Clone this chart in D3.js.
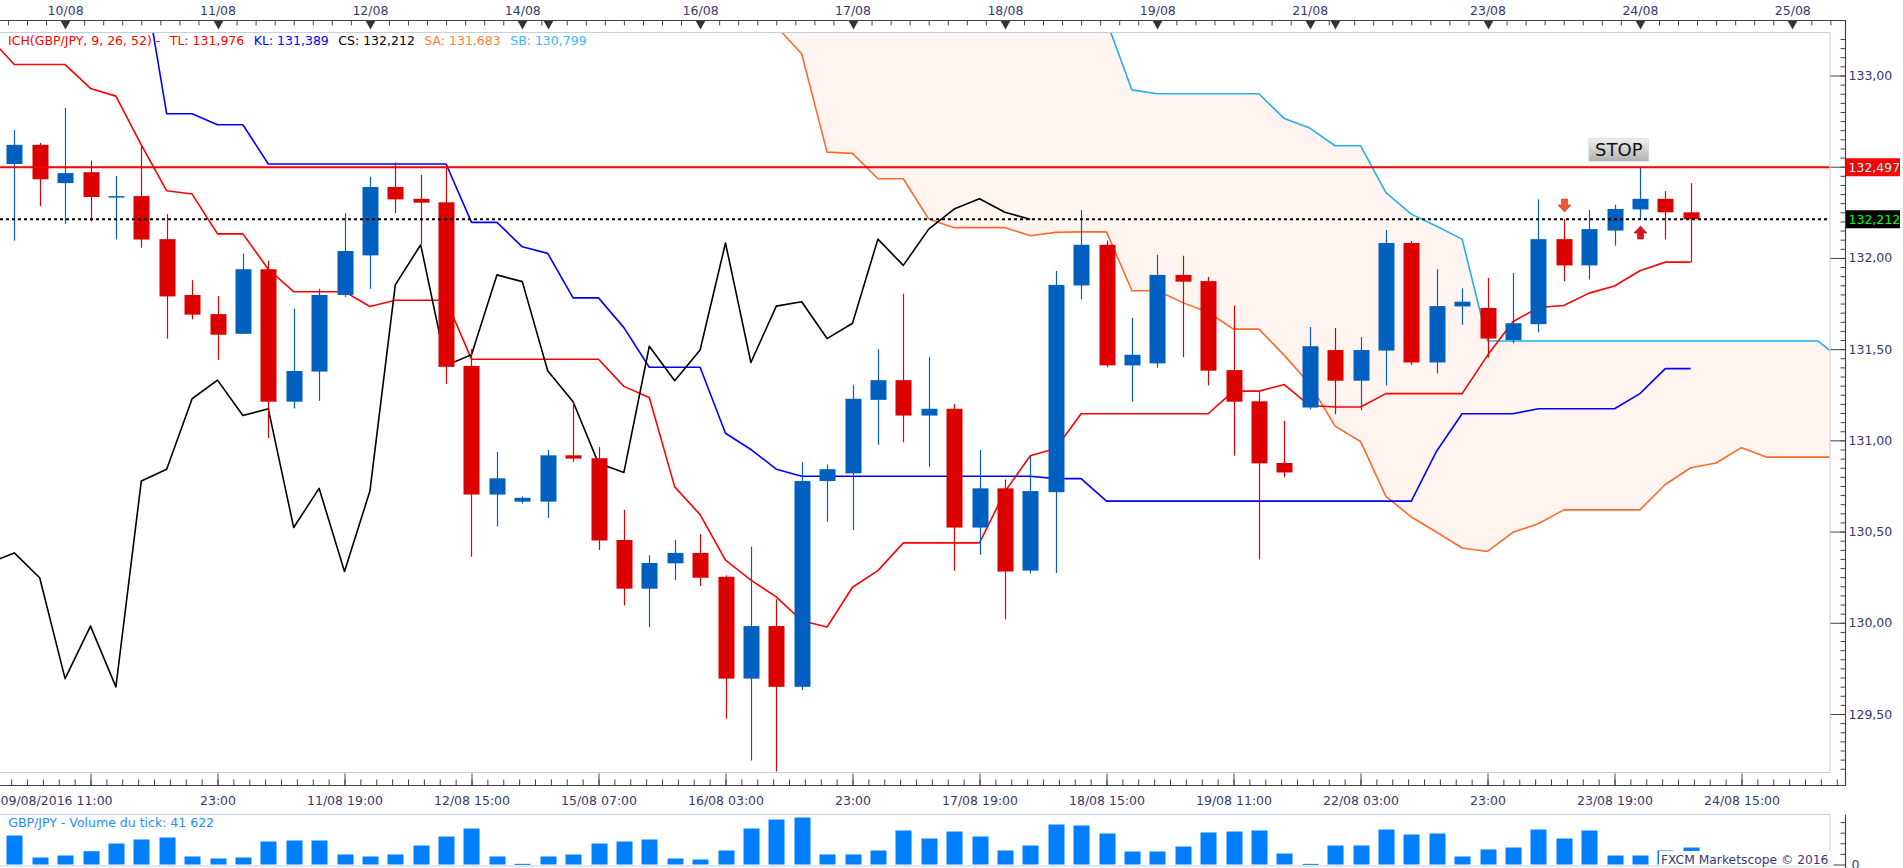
<!DOCTYPE html>
<html>
<head>
<meta charset="utf-8">
<title>GBP/JPY - ICH</title>
<script src="https://cdn.jsdelivr.net/npm/d3@7"></script>
<style>
  body { margin: 0; background: #ffffff; overflow: hidden; }
  svg text { font-family: "DejaVu Sans", Verdana, sans-serif; }
</style>
</head>
<body>
<div id="viz"></div>
<script>
// ---------- data (4h candles, index 0 = 09/08 11:00) ----------
const candleIdx = d3.range(67);

const open = [132.515,132.620,132.410,132.470,132.337,132.339,132.103,131.797,131.692,131.584,
  131.938,131.212,131.377,131.797,132.014,132.389,132.324,132.305,131.408,130.703,
  130.664,130.664,130.918,130.902,130.454,130.187,130.326,130.383,130.252,129.694,
  129.982,129.649,130.777,130.819,131.222,131.330,131.136,131.173,130.522,130.737,
  130.286,130.716,131.849,132.072,131.411,131.422,131.907,131.873,131.385,131.214,
  130.876,131.180,131.495,131.327,131.492,132.082,131.427,131.734,131.726,131.550,
  131.637,132.103,131.959,132.150,132.266,132.324,132.250];
const high = [132.701,132.630,132.822,132.533,132.449,132.612,132.240,131.878,131.791,132.025,
  131.985,131.721,131.831,132.245,132.444,132.523,132.455,132.499,131.500,130.937,
  130.693,130.947,131.215,130.963,130.619,130.370,130.454,130.486,130.260,130.417,
  130.129,130.881,130.868,131.304,131.500,131.804,131.456,131.199,130.947,130.785,
  130.916,131.928,132.263,132.095,131.671,132.017,132.012,131.896,131.739,131.264,
  131.107,131.621,131.616,131.566,132.153,132.093,131.938,131.833,131.891,131.917,
  132.321,132.213,132.263,132.292,132.494,132.366,132.410];
const low = [132.095,132.284,132.187,132.200,132.101,132.056,131.558,131.663,131.440,131.584,
  131.013,131.175,131.217,131.786,131.831,132.245,132.074,131.309,130.362,130.528,
  130.653,130.575,130.882,130.399,130.095,129.977,130.234,130.202,129.474,129.245,
  129.185,129.631,130.554,130.509,130.976,130.989,130.855,130.286,130.373,130.019,
  130.270,130.273,131.773,131.401,131.212,131.398,131.456,131.301,130.916,130.347,
  130.798,131.170,131.144,131.165,131.301,131.414,131.367,131.634,131.453,131.532,
  131.592,131.873,131.883,132.067,132.213,132.101,131.977];
const close = [132.620,132.431,132.465,132.334,132.339,132.101,131.789,131.689,131.579,131.938,
  131.212,131.380,131.797,132.038,132.389,132.321,132.303,131.403,130.703,130.792,
  130.685,130.918,130.900,130.451,130.187,130.328,130.383,130.247,129.694,129.982,
  129.649,130.777,130.842,131.228,131.330,131.136,131.173,130.522,130.737,130.281,
  130.722,131.852,132.072,131.411,131.469,131.907,131.870,131.382,131.212,130.874,
  130.824,131.516,131.327,131.495,132.082,131.427,131.736,131.760,131.558,131.642,
  132.103,131.959,132.158,132.268,132.324,132.250,132.212];
const volume = [68400,16500,21200,31400,49500,59000,63700,18900,14100,16500,
  54200,56600,56600,23600,18900,23600,44800,66000,84900,18900,
  1500,18900,23600,49500,54200,59000,14100,11800,33000,84900,
  106000,110800,23600,23600,33000,80200,61300,77800,66000,33000,
  44800,94300,92000,73100,30700,30700,42400,75500,77800,80200,
  25900,1500,44800,44800,82500,70700,73100,18900,35400,40100,
  82500,61300,80200,21200,21200,33000,40100];

// ichimoku lines (first index of each array given by *_START)
const TL_START = -1;
const tenkan = [133.210,133.060,133.060,133.060,132.929,132.887,132.620,132.368,132.350,132.132,132.132,
  131.938,131.815,131.815,131.815,131.734,131.768,131.768,131.768,131.445,131.445,
  131.445,131.445,131.445,131.445,131.296,131.235,130.745,130.593,130.344,130.234,
  130.142,130.011,129.977,130.195,130.286,130.438,130.438,130.438,130.438,130.719,
  130.916,130.955,131.146,131.146,131.146,131.146,131.146,131.146,131.270,131.270,
  131.306,131.191,131.183,131.183,131.256,131.256,131.256,131.256,131.466,131.650,
  131.728,131.739,131.807,131.846,131.930,131.977,131.977];
const KL_START = 0;
const kijun = [133.620,133.620,133.620,133.620,133.620,133.620,132.790,132.790,132.730,132.730,
  132.515,132.515,132.515,132.515,132.515,132.515,132.515,132.515,132.195,132.195,
  132.061,132.025,131.781,131.781,131.618,131.401,131.401,131.401,131.039,130.950,
  130.842,130.803,130.803,130.803,130.803,130.803,130.803,130.803,130.803,130.803,
  130.803,130.790,130.790,130.667,130.667,130.667,130.667,130.667,130.667,130.667,
  130.667,130.667,130.667,130.667,130.667,130.667,130.942,131.146,131.146,131.146,
  131.173,131.173,131.173,131.173,131.256,131.393,131.393];
const CS_START = -1;
const chikou = [130.328,130.383,130.247,129.694,129.982,129.649,130.777,130.842,131.228,131.330,
  131.136,131.173,130.522,130.737,130.281,130.722,131.852,132.072,131.411,131.469,
  131.907,131.870,131.382,131.212,130.874,130.824,131.516,131.327,131.495,132.082,
  131.427,131.736,131.760,131.558,131.642,132.103,131.959,132.158,132.268,132.324,
  132.250,132.212];
const CLOUD_START = 30;
const senkouA = [133.270,133.118,132.580,132.573,132.434,132.434,132.213,132.166,132.166,132.166,
  132.122,132.140,132.143,132.143,131.820,131.820,131.755,131.702,131.610,131.610,
  131.466,131.309,131.078,130.994,130.693,130.580,130.496,130.410,130.391,130.496,
  130.543,130.619,130.619,130.619,130.619,130.758,130.850,130.876,130.960,130.908,
  130.908,130.908,130.908];
const senkouB = [133.300,133.300,133.300,133.300,133.300,133.300,133.300,133.300,133.300,133.300,
  133.300,133.300,133.300,133.300,132.921,132.900,132.900,132.900,132.900,132.900,
  132.764,132.712,132.615,132.615,132.358,132.240,132.174,132.103,131.545,131.545,
  131.545,131.545,131.545,131.545,131.545,131.545,131.545,131.545,131.545,131.545,
  131.545,131.545,131.437];

// axis labels
const dayIdx = [2, 8, 14, 20, 21, 27, 33, 39, 45, 51, 52, 58, 64, 70];
const dayLabels = ["10/08","11/08","12/08","14/08","15/08","16/08","17/08","18/08","19/08","21/08","22/08","23/08","24/08","25/08"];
const timeIdx = [3, 8, 13, 18, 23, 28, 33, 38, 43, 48, 53, 58, 63, 68];
const timeLabels = ["","23:00","11/08 19:00","12/08 15:00","15/08 07:00","16/08 03:00","23:00",
  "17/08 19:00","18/08 15:00","19/08 11:00","22/08 03:00","23:00","23/08 19:00","24/08 15:00"];
const firstTimeLabel = "09/08/2016 11:00";
const priceTicks = [129.5, 130, 130.5, 131, 131.5, 132, 132.5, 133];
const volumeTicks = [0, 25000, 50000, 75000, 100000];

const stopLevel = 132.497;
const lastPrice = 132.212;
const sellSignals = [61];
const buySignals = [64];
const legendItems = [
  {text: "ICH(GBP/JPY, 9, 26, 52) -", color: "#ff0000"},
  {text: "TL: 131,976", color: "#ff0000"},
  {text: "KL: 131,389", color: "#0000ff"},
  {text: "CS: 132,212", color: "#000000"},
  {text: "SA: 131,683", color: "#ff7f40"},
  {text: "SB: 130,799", color: "#3cb8f8"}
];
const volumeTitle = "GBP/JPY - Volume du tick: 41 622";
const copyright = "FXCM Marketscope \u00a9 2016";

// ---------- layout ----------
const F_WIDTH = 1903;
const F_HEIGHT = 868;
const PLOT = {left: 0, right: 1830, top: 32, bottom: 772};
const VOL = {top: 814.5, bottom: 866};
const AXIS_X = 1845.5;
const TOP_AXIS_Y = 20.5;
const BOTTOM_AXIS_Y = 785.5;

const AXIS_COLOR = "#383870";
const FRAME_COLOR = "#444444";
const BORDER_COLOR = "#c3d0de";
const UP_COLOR = "#0060c0";
const DOWN_COLOR = "#dd0000";

const FRAME = d3.select("#viz")
  .append("svg")
    .attr("width", F_WIDTH)
    .attr("height", F_HEIGHT);

const X_SCALE = d3.scaleLinear().domain([0, 66]).range([14.3, 1690.7]);
const Y_SCALE = d3.scaleLinear().domain([129.5, 133]).range([714, 75.5]);
const V_SCALE = d3.scaleLinear().domain([0, 100000]).range([864.5, 822.1]);

const LOCALE = d3.formatLocale({decimal: ",", thousands: " ", grouping: [3], currency: ["", ""]});
const fmt2 = LOCALE.format(".2f");
const fmt3 = LOCALE.format(".3f");

const defs = FRAME.append("defs");
defs.append("clipPath").attr("id", "plotClip")
  .append("rect")
    .attr("x", PLOT.left).attr("y", PLOT.top)
    .attr("width", PLOT.right - PLOT.left).attr("height", PLOT.bottom - PLOT.top);
defs.append("clipPath").attr("id", "volClip")
  .append("rect")
    .attr("x", 0).attr("y", VOL.top)
    .attr("width", PLOT.right).attr("height", VOL.bottom - VOL.top);
const grad = defs.append("linearGradient").attr("id", "stopGrad")
  .attr("x1", 0).attr("y1", 0).attr("x2", 0).attr("y2", 1);
grad.append("stop").attr("offset", "0%").attr("stop-color", "#f0f0f0");
grad.append("stop").attr("offset", "100%").attr("stop-color", "#b0b0b0");

function series(values, start) {
  return values.map((v, k) => [start + k, v]);
}
const lineGen = d3.line()
  .x((d) => { return X_SCALE(d[0]); })
  .y((d) => { return Y_SCALE(d[1]); });

// ---------- price panel ----------
const PLOT_G = FRAME.append("g").attr("clip-path", "url(#plotClip)");

// kumo
const cloud = senkouA.map((a, k) => ({i: CLOUD_START + k, a: a, b: senkouB[k]}));
PLOT_G.append("path")
  .datum(cloud)
  .attr("d", d3.area()
    .x((d) => X_SCALE(d.i))
    .y0((d) => Y_SCALE(d.a))
    .y1((d) => Y_SCALE(d.b)))
  .attr("fill", "#fff4f0");

const LINES = [
  {values: senkouA, start: CLOUD_START, color: "#ff6a28"},
  {values: senkouB, start: CLOUD_START, color: "#22b0f0"},
  {values: kijun, start: KL_START, color: "#0000ff"},
  {values: tenkan, start: TL_START, color: "#ff0000"},
  {values: chikou, start: CS_START, color: "#000000"}
];
LINES.forEach((s) => {
  PLOT_G.append("path")
    .datum(series(s.values, s.start))
    .attr("d", lineGen)
    .attr("fill", "none")
    .attr("stroke", s.color)
    .attr("stroke-width", 1.6)
    .attr("stroke-linejoin", "round");
});

// candles
const candles = candleIdx.map((i) => ({i: i, o: open[i], h: high[i], l: low[i], c: close[i], v: volume[i]}));
const colorOf = (d) => { return d.c >= d.o ? UP_COLOR : DOWN_COLOR; };

PLOT_G.selectAll(".wick")
  .data(candles)
  .enter()
  .append("line")
    .attr("class", "wick")
    .attr("x1", (d) => Math.round(X_SCALE(d.i)) + 0.5)
    .attr("x2", (d) => Math.round(X_SCALE(d.i)) + 0.5)
    .attr("y1", (d) => Y_SCALE(d.h))
    .attr("y2", (d) => Y_SCALE(d.l))
    .attr("stroke", colorOf)
    .attr("stroke-width", 1.2);

PLOT_G.selectAll(".body")
  .data(candles)
  .enter()
  .append("rect")
    .attr("class", "body")
    .attr("x", (d) => Math.round(X_SCALE(d.i)) - 7.5)
    .attr("y", (d) => Y_SCALE(Math.max(d.o, d.c)))
    .attr("width", 16)
    .attr("height", (d) => Math.max(1.5, Math.abs(Y_SCALE(d.o) - Y_SCALE(d.c))))
    .attr("fill", colorOf);

// stop level and last price
PLOT_G.append("line")
  .attr("x1", PLOT.left).attr("x2", PLOT.right)
  .attr("y1", Y_SCALE(stopLevel)).attr("y2", Y_SCALE(stopLevel))
  .attr("stroke", "#ff0000").attr("stroke-width", 2);
PLOT_G.append("line")
  .attr("x1", PLOT.left).attr("x2", PLOT.right)
  .attr("y1", Y_SCALE(lastPrice)).attr("y2", Y_SCALE(lastPrice))
  .attr("stroke", "#000000").attr("stroke-width", 2)
  .attr("stroke-dasharray", "3,3");

// signal arrows
const arrowDown = "M-3,-13 L3,-13 L3,-7 L6.5,-7 L0,0 L-6.5,-7 L-3,-7 Z";
PLOT_G.selectAll(".sell")
  .data(sellSignals)
  .enter()
  .append("path")
    .attr("d", arrowDown)
    .attr("transform", (i) => `translate(${Math.round(X_SCALE(i)) + 0.5},${Y_SCALE(high[i]) - 7})`)
    .attr("fill", "#ec5a34").attr("stroke", "#c0301c").attr("stroke-width", 0.6);
PLOT_G.selectAll(".buy")
  .data(buySignals)
  .enter()
  .append("path")
    .attr("d", arrowDown)
    .attr("transform", (i) => `translate(${Math.round(X_SCALE(i)) + 0.5},${Y_SCALE(low[i]) + 7}) rotate(180)`)
    .attr("fill", "#e0141e").attr("stroke", "#a00c10").attr("stroke-width", 0.6);

// STOP tag above the stop line
const stopX = X_SCALE(63.17);
const stopY = Y_SCALE(stopLevel) - 17.5;
FRAME.append("rect")
  .attr("x", stopX - 30).attr("y", stopY - 11.5)
  .attr("width", 60).attr("height", 23)
  .attr("fill", "url(#stopGrad)")
  .attr("stroke", "#d8d8d8").attr("stroke-width", 0.6);
FRAME.append("text")
  .attr("x", stopX).attr("y", stopY)
  .attr("dy", "0.36em")
  .attr("text-anchor", "middle")
  .style("font-size", "18px")
  .attr("fill", "#111")
  .text("STOP");

// legend
const legend = FRAME.append("g");
let lx = 8;
legendItems.forEach((it) => {
  const t = legend.append("text")
    .attr("x", lx).attr("y", 45.2)
    .style("font-size", "12.5px")
    .attr("fill", it.color)
    .text(it.text);
  lx += t.node().getComputedTextLength() + 9.5;
});

// plot border
FRAME.append("rect")
  .attr("x", -0.5).attr("y", PLOT.top + 0.5)
  .attr("width", PLOT.right + 0.5).attr("height", PLOT.bottom - PLOT.top)
  .attr("fill", "none").attr("stroke", BORDER_COLOR);

// ---------- axes ----------
// price tags sit on the axis and hide the labels underneath them
const TAGS = [
  {value: stopLevel, bg: "#ff0000", fg: "#9ffcff"},
  {value: lastPrice, bg: "#000000", fg: "#00ff00"}
];
const underTag = (v) => TAGS.some((t) => Math.abs(Y_SCALE(t.value) - Y_SCALE(v)) < 12);

// right price axis
const yAxisG = FRAME.append("g")
  .attr("transform", "translate(" + AXIS_X + ",0)")
  .call(d3.axisRight(Y_SCALE).tickValues(priceTicks)
    .tickFormat((v) => underTag(v) ? "" : fmt2(v))
    .tickSizeInner(-15).tickSizeOuter(0).tickPadding(3));
const minorPrices = d3.range(0, 81).map((k) => 129.2 + k * 0.05);
const yMinorG = FRAME.append("g")
  .attr("transform", "translate(" + AXIS_X + ",0)")
  .call(d3.axisRight(Y_SCALE).tickValues(minorPrices).tickFormat("")
    .tickSizeInner(-5).tickSizeOuter(0));

// bottom time axis
const xAxisG = FRAME.append("g")
  .attr("transform", "translate(0," + BOTTOM_AXIS_Y + ")")
  .call(d3.axisBottom(X_SCALE).tickValues(timeIdx)
    .tickFormat((d, k) => timeLabels[k])
    .tickSizeInner(-12).tickSizeOuter(0).tickPadding(11));
const minorTimes = d3.range(0, 116).map((k) => -0.125 + k * 0.625).filter((v) => X_SCALE(v) <= AXIS_X);
const xMinorG = FRAME.append("g")
  .attr("transform", "translate(0," + BOTTOM_AXIS_Y + ")")
  .call(d3.axisBottom(X_SCALE).tickValues(minorTimes).tickFormat("")
    .tickSizeInner(-6).tickSizeOuter(0));
FRAME.append("text")
  .attr("x", 0.5).attr("y", BOTTOM_AXIS_Y + 11)
  .attr("dy", "0.71em")
  .style("font-size", "12.5px")
  .attr("fill", AXIS_COLOR)
  .text(firstTimeLabel);

// top date axis
const topMinor = [];
dayIdx.forEach((d, k) => {
  const next = k + 1 < dayIdx.length ? dayIdx[k + 1] : 72.2;
  for (let t = d + 0.75; t < next - 0.1; t += 0.75) { topMinor.push(t); }
  if (k === 0) { for (let t = d - 0.75; X_SCALE(t) >= 0; t -= 0.75) { topMinor.push(t); } }
});
const topMinorG = FRAME.append("g")
  .attr("transform", "translate(0," + TOP_AXIS_Y + ")")
  .call(d3.axisTop(X_SCALE).tickValues(topMinor).tickFormat("")
    .tickSizeInner(-5).tickSizeOuter(0));

let lastShown = -999;
const shownDays = [];
dayIdx.forEach((d, k) => {
  if (X_SCALE(d) - lastShown > 60) { shownDays.push(k); lastShown = X_SCALE(d); }
});
const topAxisG = FRAME.append("g")
  .attr("transform", "translate(0," + TOP_AXIS_Y + ")")
  .call(d3.axisTop(X_SCALE).tickValues(shownDays.map((k) => dayIdx[k]))
    .tickFormat((d, k) => dayLabels[shownDays[k]])
    .tickSize(0).tickPadding(6));

FRAME.selectAll(".dayMark")
  .data(dayIdx)
  .enter()
  .append("path")
    .attr("d", (d) => {
      const x = Math.round(X_SCALE(d)) + 0.5;
      return "M" + (x - 5) + "," + TOP_AXIS_Y + " L" + (x + 5) + "," + TOP_AXIS_Y + " L" + x + "," + (TOP_AXIS_Y + 9) + " Z";
    })
    .attr("fill", "#333333");

// style all axes alike
[yAxisG, yMinorG, xAxisG, xMinorG, topMinorG, topAxisG].forEach((g) => {
  g.select(".domain").remove();
  g.selectAll(".tick line").attr("stroke", FRAME_COLOR);
  g.selectAll("text").style("font-size", "12.5px").attr("fill", AXIS_COLOR).attr("font-family", null);
});

// axis frame lines
FRAME.append("path")
  .attr("d", "M0," + TOP_AXIS_Y + " H" + AXIS_X + " V" + BOTTOM_AXIS_Y + " H0")
  .attr("fill", "none").attr("stroke", FRAME_COLOR).attr("stroke-width", 1.2);

// price tags on the right axis
TAGS.forEach((t) => {
  const y = Y_SCALE(t.value);
  FRAME.append("rect")
    .attr("x", AXIS_X + 0.5).attr("y", y - 9)
    .attr("width", 54).attr("height", 18)
    .attr("fill", t.bg);
  FRAME.append("text")
    .attr("x", AXIS_X + 3).attr("y", y)
    .attr("dy", "0.36em")
    .style("font-size", "12.5px")
    .attr("fill", t.fg)
    .text(fmt3(t.value));
});

// ---------- volume panel ----------
const VOL_G = FRAME.append("g").attr("clip-path", "url(#volClip)");
VOL_G.selectAll(".vbar")
  .data(candles)
  .enter()
  .append("rect")
    .attr("class", "vbar")
    .attr("x", (d) => Math.round(X_SCALE(d.i)) - 7.5)
    .attr("y", (d) => V_SCALE(d.v))
    .attr("width", 16)
    .attr("height", (d) => Math.max(1, V_SCALE(0) - V_SCALE(d.v)))
    .attr("fill", "#0080ff");

FRAME.append("rect")
  .attr("x", -0.5).attr("y", VOL.top)
  .attr("width", PLOT.right + 0.5).attr("height", VOL.bottom - VOL.top)
  .attr("fill", "none").attr("stroke", BORDER_COLOR);

FRAME.append("text")
  .attr("x", 8.3).attr("y", 827.2)
  .style("font-size", "12.5px")
  .attr("fill", "#1e8cff")
  .text(volumeTitle);

const vAxisG = FRAME.append("g")
  .attr("transform", "translate(" + AXIS_X + ",0)")
  .call(d3.axisRight(V_SCALE).tickValues(volumeTicks)
    .tickFormat((d) => d === 0 ? "0" : "")
    .tickSizeInner(-5).tickSizeOuter(0).tickPadding(6));
vAxisG.select(".domain").remove();
vAxisG.selectAll(".tick line").attr("stroke", FRAME_COLOR)
  .attr("x2", (d) => d === 0 ? -12 : -5);
vAxisG.selectAll("text").style("font-size", "12.5px").attr("fill", AXIS_COLOR);
FRAME.append("line")
  .attr("x1", AXIS_X).attr("x2", AXIS_X)
  .attr("y1", VOL.top).attr("y2", F_HEIGHT)
  .attr("stroke", FRAME_COLOR).attr("stroke-width", 1.2);

// copyright tag with its white backing
const crBox = FRAME.append("rect")
  .attr("x", 1659).attr("y", 851)
  .attr("height", 14.5)
  .attr("fill", "#ffffff");
const cr = FRAME.append("text")
  .attr("x", 1661).attr("y", 863.5)
  .style("font-size", "12.3px")
  .attr("fill", AXIS_COLOR)
  .text(copyright);
crBox.attr("width", cr.node().getComputedTextLength() + 4);
</script>
</body>
</html>
